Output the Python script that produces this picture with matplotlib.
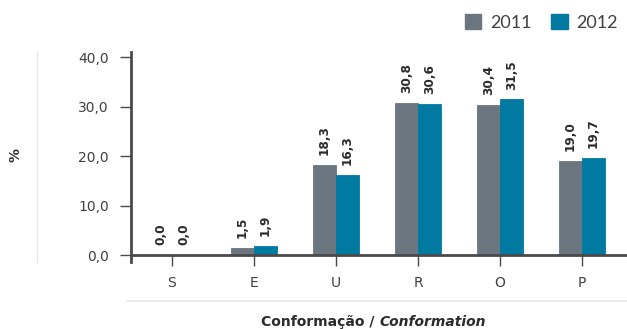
import matplotlib
matplotlib.use("Agg")
import matplotlib.pyplot as plt
from matplotlib.lines import Line2D
from matplotlib.patches import Patch
import numpy as np

categories = ["S", "E", "U", "R", "O", "P"]
values_2011 = [0.0, 1.5, 18.3, 30.8, 30.4, 19.0]
values_2012 = [0.0, 1.9, 16.3, 30.6, 31.5, 19.7]
series_names = ["2011", "2012"]
yticks = [0, 10, 20, 30, 40]

c2011 = "#6b7780"
c2012 = "#007aa1"
dark = "#404040"
spine_c = "#4a4a4a"

plt.rcParams['font.family'] = ['DejaVu Sans']

W, H = 627, 329
fig = plt.figure(figsize=(W / 100, H / 100), dpi=100)
ax = fig.add_axes([131 / W, 1 - 262 / H, 1 - 131 / W, (262 - 52) / H])

x = np.arange(len(categories))
bw = 0.28
b1 = ax.bar(x - bw / 2, values_2011, bw, color=c2011, edgecolor=c2011,
            linewidth=0.6, label=series_names[0])
b2 = ax.bar(x + bw / 2, values_2012, bw, color=c2012, edgecolor=c2012,
            linewidth=0.6, label=series_names[1])

for bars, vals in ((b1, values_2011), (b2, values_2012)):
    for rect, v in zip(bars, vals):
        ax.annotate(f"{v:.1f}".replace(".", ","),
                    (rect.get_x() + rect.get_width() / 2, rect.get_height()),
                    xytext=(0, 7), textcoords="offset points",
                    rotation=90, ha="center", va="bottom",
                    fontsize=8.7, fontweight="bold", color="#2b2b2b")

ax.set_xlim(-0.5, 5.55)
ax.set_ylim(-1.4, 41.1)
ax.set_yticks(yticks)
ax.set_yticklabels([f"{t:.1f}".replace(".", ",") for t in yticks])
ax.set_xticks(x)
ax.set_xticklabels(categories)

for s in ("top", "right"):
    ax.spines[s].set_visible(False)
ax.spines["bottom"].set_position(("data", 0))
ax.spines["bottom"].set_color(spine_c)
ax.spines["bottom"].set_linewidth(2)
ax.spines["left"].set_color(spine_c)
ax.spines["left"].set_linewidth(2)

ax.tick_params(axis="y", direction="out", length=8, width=1, color=spine_c,
               labelsize=10, labelcolor=dark, pad=8)
ax.tick_params(axis="x", direction="out", length=8, width=1, color=spine_c,
               labelsize=10, labelcolor=dark, pad=7)

fig.text(15 / W, 1 - 155 / H, "%", rotation=90, ha="center", va="center",
         fontsize=10, fontweight="bold", color="#2b2b2b")

# light gray decorative lines
fig.add_artist(Line2D([37 / W, 37 / W], [1 - 52 / H, 1 - 262 / H],
                      color="#e6e6e6", lw=1, transform=fig.transFigure))
fig.add_artist(Line2D([127 / W, 1.0], [1 - 301 / H, 1 - 301 / H],
                      color="#e6e6e6", lw=1.2, transform=fig.transFigure))

# x label with italic part
fig.text(379 / W, 1 - 322 / H, "Conformação / ", ha="right", va="center",
         fontsize=10, fontweight="bold", color="#2b2b2b")
fig.text(379 / W, 1 - 322 / H, "Conformation", ha="left", va="center",
         fontsize=10, fontweight="bold", style="italic", color="#2b2b2b")

handles = [Patch(color=c2011), Patch(color=c2012)]
leg = fig.legend(handles, series_names, loc="upper right",
                 bbox_to_anchor=(629 / W, 1 - 3 / H), ncol=2, frameon=False,
                 prop={"family": "Lato", "size": 13},
                 handlelength=0.9, handleheight=0.9, handletextpad=0.5,
                 columnspacing=1.1, borderaxespad=0.2)
for t in leg.get_texts():
    t.set_color(dark)

fig.savefig("out.png", dpi=100)
